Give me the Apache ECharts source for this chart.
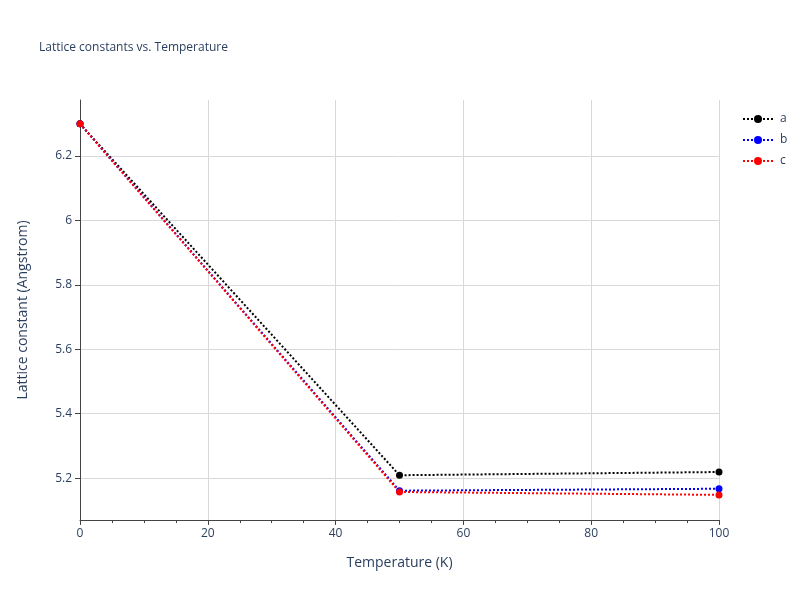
<!DOCTYPE html>
<html><head><meta charset="utf-8">
<script src="https://cdn.jsdelivr.net/npm/echarts@6/dist/echarts.min.js"></script>
<style>html,body{margin:0;padding:0}#c{width:800px;height:600px}</style>
</head><body><div id="c"></div>
<script>
const temps = [0, 50, 100];
const aVals = [6.3, 5.209, 5.219];
const bVals = [6.3, 5.161, 5.167];
const cVals = [6.3, 5.157, 5.148];
const yTicks = [5.2, 5.4, 5.6, 5.8, 6.0, 6.2];
const xTicks = [0, 20, 40, 60, 80, 100];
const font = '"Open Sans", sans-serif';
const chart = echarts.init(document.getElementById('c'));
function mk(name, vals, color) {
  return {name, type: 'line', data: temps.map((t, i) => [t, vals[i]]),
    symbol: 'circle', symbolSize: 7, itemStyle: {color},
    lineStyle: {color, type: 'dotted', width: 2}};
}
chart.setOption({
  animation: false,
  title: {text: 'Lattice constants vs. Temperature', left: 34, top: 37,
    textStyle: {fontFamily: font, fontSize: 12, fontWeight: 'normal', color: '#2a3f5f'}},
  legend: {orient: 'vertical', left: 737, top: 108, itemGap: 9, itemWidth: 30, itemHeight: 10,
    textStyle: {fontFamily: font, fontSize: 12, color: '#2a3f5f', padding: [0, 0, 0, 2]}},
  grid: {left: 80, right: 81, top: 100, bottom: 80, containLabel: false},
  xAxis: {type: 'value', min: 0, max: 100, interval: 20,
    name: 'Temperature (K)', nameLocation: 'middle', nameGap: 36,
    nameTextStyle: {fontFamily: font, fontSize: 14, color: '#2a3f5f'},
    axisLine: {onZero: false, lineStyle: {color: '#444'}},
    axisTick: {show: true, length: 5, lineStyle: {color: '#444'}},
    minorTick: {show: true, splitNumber: 4, length: 3, lineStyle: {color: '#444'}},
    axisLabel: {fontFamily: font, fontSize: 12, color: '#2a3f5f'},
    splitLine: {show: true, lineStyle: {color: '#d8d8d8'}}},
  yAxis: {type: 'value', min: 5.07, max: 6.374,
    name: 'Lattice constant (Angstrom)', nameLocation: 'middle', nameGap: 50,
    nameTextStyle: {fontFamily: font, fontSize: 14, color: '#2a3f5f'},
    axisLine: {show: true, lineStyle: {color: '#444'}},
    axisTick: {show: true, length: 5, customValues: yTicks, lineStyle: {color: '#444'}},
    axisLabel: {fontFamily: font, fontSize: 12, color: '#2a3f5f', customValues: yTicks,
      formatter: v => (Math.round(v * 10) / 10).toString()},
    splitLine: {show: true, lineStyle: {color: '#d8d8d8'}}},
  series: [mk('a', aVals, '#000000'), mk('b', bVals, '#0000ff'), mk('c', cVals, '#ff0000')]
});
</script></body></html>
